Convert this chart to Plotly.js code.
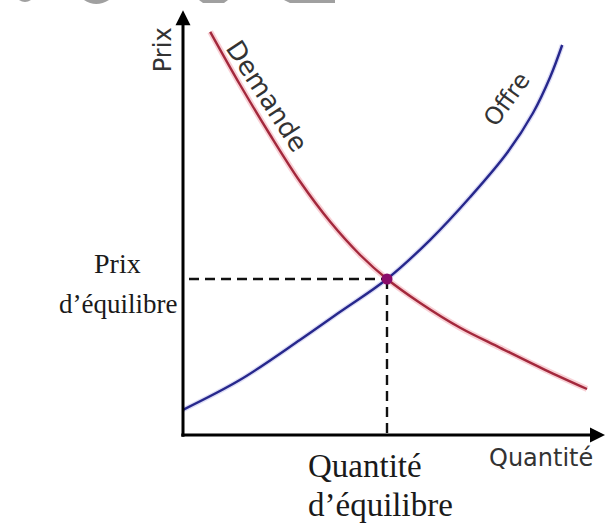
<!DOCTYPE html>
<html>
<head>
<meta charset="utf-8">
<script src="https://cdn.plot.ly/plotly-3.0.1.min.js"></script>
<style>
  html, body { margin: 0; padding: 0; background: #ffffff; }
  #chart { width: 608px; height: 525px; }
</style>
</head>
<body>
<div id="chart"></div>
<script>
// Demand curve (quantity, price)
const demandQty   = [0.68, 1.43, 2.18, 2.93, 3.68, 4.43, 5.10, 5.93, 6.93, 7.93, 9.05, 10.10];
const demandPrice = [10.08, 8.75, 7.50, 6.33, 5.33, 4.50, 3.90, 3.30, 2.68, 2.18, 1.63, 1.15];

// Supply curve (quantity, price)
const supplyQty   = [0.00, 1.43, 2.93, 3.93, 5.10, 6.18, 7.18, 8.10, 8.75, 9.18, 9.48];
const supplyPrice = [0.63, 1.38, 2.38, 3.08, 3.90, 4.88, 5.95, 7.05, 8.05, 8.95, 9.75];

// Market equilibrium
const eqQty = 5.10;
const eqPrice = 3.90;

// Axis extents (origin at 0,0)
const qMax = 10.55;
const pMax = 10.62;

// Texts
const labelPriceAxis = 'Prix';
const labelQtyAxis = 'Quantité';
const labelDemand = 'Demande';
const labelSupply = 'Offre';
const labelEqPrice = ['Prix', 'd’équilibre'];
const labelEqQty = ['Quantité', 'd’équilibre'];

const sans = 'DejaVu Sans, Verdana, sans-serif';
const serif = 'Liberation Serif, Times New Roman, serif';

const traces = [
  // soft halo under the demand curve
  { x: demandQty, y: demandPrice, mode: 'lines', hoverinfo: 'skip',
    line: { color: 'rgba(235,120,135,0.35)', width: 6, shape: 'spline', smoothing: 1 } },
  { x: demandQty, y: demandPrice, mode: 'lines', name: labelDemand,
    line: { color: '#a3283c', width: 2.4, shape: 'spline', smoothing: 1 } },
  // soft halo under the supply curve
  { x: supplyQty, y: supplyPrice, mode: 'lines', hoverinfo: 'skip',
    line: { color: 'rgba(120,120,220,0.25)', width: 5, shape: 'spline', smoothing: 1 } },
  { x: supplyQty, y: supplyPrice, mode: 'lines', name: labelSupply,
    line: { color: '#26278c', width: 2.4, shape: 'spline', smoothing: 1 } },
  // guides to the equilibrium point
  { x: [0.15, eqQty], y: [eqPrice, eqPrice], mode: 'lines', hoverinfo: 'skip',
    line: { color: '#111111', width: 2.4, dash: '10px,6px' } },
  { x: [eqQty, eqQty], y: [eqPrice, 0], mode: 'lines', hoverinfo: 'skip',
    line: { color: '#111111', width: 2.4, dash: '10px,6px' } },
  // equilibrium point
  { x: [eqQty], y: [eqPrice], mode: 'markers', hoverinfo: 'skip',
    marker: { color: '#8a0c6a', size: 11 } }
];

const annotations = [
  // axes with arrow heads
  { x: qMax, y: 0, ax: -0.08, ay: 0, xref: 'x', yref: 'y', axref: 'x', ayref: 'y',
    text: '', showarrow: true, arrowhead: 2, arrowsize: 1, arrowwidth: 3, arrowcolor: '#000000' },
  { x: 0, y: pMax, ax: 0, ay: -0.08, xref: 'x', yref: 'y', axref: 'x', ayref: 'y',
    text: '', showarrow: true, arrowhead: 2, arrowsize: 1, arrowwidth: 3, arrowcolor: '#000000' },
  // axis names
  { x: -0.50, y: 9.62, text: labelPriceAxis, showarrow: false, textangle: -90,
    font: { family: sans, size: 24, color: '#333333' } },
  { x: 8.95, y: -0.58, text: labelQtyAxis, showarrow: false,
    font: { family: sans, size: 24, color: '#333333' } },
  // curve names
  { x: 2.10, y: 8.48, text: labelDemand, showarrow: false, textangle: 57,
    font: { family: sans, size: 26, color: '#333333' } },
  { x: 8.10, y: 8.40, text: labelSupply, showarrow: false, textangle: -54,
    font: { family: sans, size: 24, color: '#333333' } },
  // equilibrium price label
  { x: -1.63, y: 4.30, text: labelEqPrice[0], showarrow: false,
    font: { family: serif, size: 28, color: '#1a1a1a' } },
  { x: -1.63, y: 3.28, text: labelEqPrice[1], showarrow: false,
    font: { family: serif, size: 27, color: '#1a1a1a' } },
  // equilibrium quantity label
  { x: 3.08, y: -0.78, text: labelEqQty[0], showarrow: false, xanchor: 'left',
    font: { family: serif, size: 33, color: '#1a1a1a' } },
  { x: 3.08, y: -1.75, text: labelEqQty[1], showarrow: false, xanchor: 'left',
    font: { family: serif, size: 33, color: '#1a1a1a' } }
];

// grey fragments along the top edge
const W = 608, H = 525;
function px(x, y) { return (x / W).toFixed(4) + ',' + (1 - y / H).toFixed(4); }
const topShapes = [
  'M' + px(19, 0) + ' Q' + px(25, 4) + ' ' + px(31, 0) + ' Z',
  'M' + px(84, 0) + ' Q' + px(96, 8) + ' ' + px(109, 0) + ' Z',
  'M' + px(199, 0) + ' L' + px(228, 0) + ' L' + px(224, 3) + ' L' + px(203, 3) + ' Z',
  'M' + px(284, 0) + ' L' + px(335, 0) + ' L' + px(335, 3) + ' L' + px(290, 3) + ' Z'
].map(p => ({ type: 'path', xref: 'paper', yref: 'paper', path: p,
              fillcolor: '#a0a0a0', line: { width: 0 } }));

const layout = {
  width: 608, height: 525,
  margin: { l: 0, r: 0, t: 0, b: 0 },
  paper_bgcolor: '#ffffff', plot_bgcolor: '#ffffff',
  showlegend: false,
  xaxis: { range: [-4.575, 10.625], visible: false, fixedrange: true },
  yaxis: { range: [-2.25, 10.875], visible: false, fixedrange: true },
  annotations: annotations,
  shapes: topShapes
};

Plotly.newPlot('chart', traces, layout, { staticPlot: true, displayModeBar: false });
</script>
</body>
</html>
